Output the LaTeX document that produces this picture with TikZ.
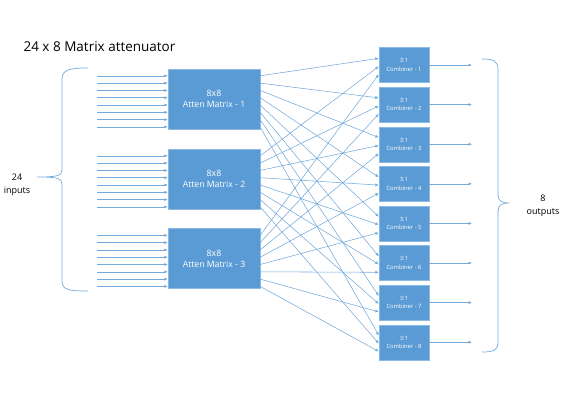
\documentclass[tikz,border=0pt]{standalone}
\usepackage{fontspec}
\setmainfont{Open Sans}
\usetikzlibrary{calc,arrows.meta}
\definecolor{cblue}{HTML}{5B9BD5}
\definecolor{cedge}{HTML}{8DB9E3}
\definecolor{cwire}{HTML}{74AADB}

\begin{document}
\begin{tikzpicture}[x=1pt,y=-1pt,
  mbox/.style={draw=cedge,fill=cblue,text=white,minimum width=92pt,
    minimum height=60pt,font=\fontsize{8.7}{11}\selectfont,align=center,inner sep=0pt},
  cbox/.style={draw=cedge,fill=cblue,text=white,minimum width=50pt,
    minimum height=35pt,font=\fontsize{5.8}{8.5}\selectfont,align=center,inner sep=0pt},
  wire/.style={cwire,line width=0.55pt,-{Latex[length=3.5pt,width=3pt]}},
  brace/.style={cwire,line width=0.7pt},
  lbl/.style={font=\fontsize{9}{13}\selectfont,align=center}]
  \useasboundingbox (0,0) rectangle (565,400);
  \node[anchor=west,font=\fontsize{13.5}{16}\selectfont] (title) at (20,47) {24 x 8 Matrix attenuator};
  % attenuator blocks
  \foreach \i/\y in {1/99,2/179,3/258.5}
    \node[mbox] (m\i) at (214,\y) {8x8\\Atten Matrix - \i};
  % combiners and outputs
  \foreach \k in {1,...,8} {
    \node[cbox] (c\k) at (404,{65+39.6*(\k-1)}) {3:1\\Combiner - \k};
    \coordinate (o\k) at (472,{65+39.6*(\k-1)});
    \draw[wire] (c\k) -- (o\k);
  }
  % inputs
  \foreach \i in {1,2,3}
    \foreach \j in {0,...,7} {
      \coordinate (in\i\j) at ($(m\i.north west)+(-71,{7+7.3*\j})$);
      \draw[wire] (in\i\j) -- (in\i\j -| m\i.west);
    }
  % matrix -> combiner
  \foreach \i in {1,2,3}
    \foreach \j in {1,...,8}
      \draw[wire] ($(m\i.north east)+(0,{7+7.3*(\j-1)})$) -- ($(c\j.north west)+(0,{3+8*\i})$);
  % braces
  \draw[brace] (88,68) .. controls (68,68) and (62,70) .. (62,80) -- (62,170)
    .. controls (62,176) and (56,177) .. (37,177)
    .. controls (56,177) and (62,178) .. (62,184) -- (62,280)
    .. controls (62,290) and (68,291) .. (88,291);
  \draw[brace] (482,59) .. controls (494,59) and (498,61) .. (498,70) -- (498,195)
    .. controls (498,201) and (502,203) .. (509,203)
    .. controls (502,203) and (498,205) .. (498,211) -- (498,342)
    .. controls (498,350) and (494,352) .. (482,352);
  \node[lbl] (inlbl) at (17,185) {24\\inputs};
  \node[lbl] (outlbl) at (543,206) {8\\outputs};
\end{tikzpicture}
\end{document}
